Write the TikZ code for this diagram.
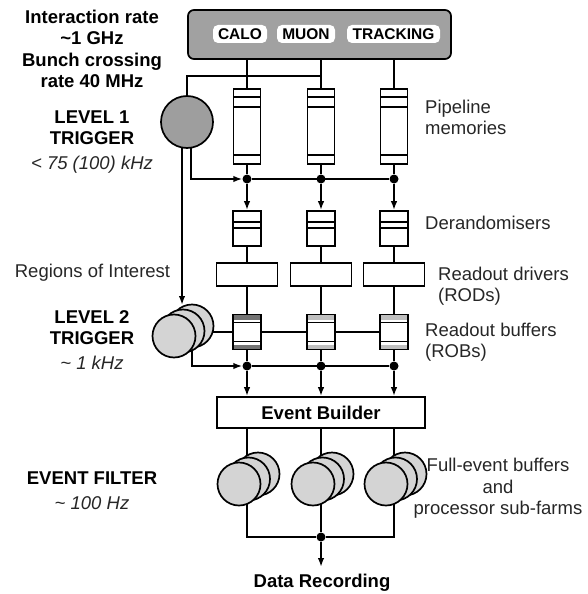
\documentclass[tikz,border=0pt]{standalone}
\usepackage{fontspec}
\setmainfont{Liberation Sans}
\usetikzlibrary{arrows.meta,calc}
\pgfdeclarelayer{bg}
\pgfsetlayers{bg,main}
\newcommand\dfont{\fontsize{18.5}{21.3}\selectfont}
\newcommand\lfont{\fontsize{15.5}{18}\selectfont\bfseries}
\begin{document}
\begin{tikzpicture}[x=1pt,y=-1pt,
  lw/.style={line width=1.8pt},
  arr/.style={line width=1.8pt,-{Latex[length=9pt,width=6.5pt]}},
  detbox/.style={draw,line width=1.7pt,fill=black!37,rounded corners=6pt,minimum width=263pt,minimum height=49pt,inner sep=0pt},
  lab/.style={fill=white,rounded corners=5pt,minimum height=18pt,inner sep=0pt,font=\lfont},
  pipe/.style={draw,fill=white,line width=1.6pt,minimum width=27pt,minimum height=75pt,inner sep=0pt,
    path picture={
      \draw[line width=1.3pt] ([yshift=-8pt]path picture bounding box.north west) -- ([yshift=-8pt]path picture bounding box.north east);
      \draw[line width=1.3pt] ([yshift=-18pt]path picture bounding box.north west) -- ([yshift=-18pt]path picture bounding box.north east);
      \draw[line width=1.3pt] ([yshift=9pt]path picture bounding box.south west) -- ([yshift=9pt]path picture bounding box.south east);
    }},
  derand/.style={draw,fill=white,line width=1.6pt,minimum width=28pt,minimum height=35pt,inner sep=0pt,
    path picture={
      \draw[line width=1.3pt] ([yshift=-11pt]path picture bounding box.north west) -- ([yshift=-11pt]path picture bounding box.north east);
      \draw[line width=1.3pt] ([yshift=-17pt]path picture bounding box.north west) -- ([yshift=-17pt]path picture bounding box.north east);
    }},
  rodbox/.style={draw,fill=white,line width=1.6pt,minimum width=61pt,minimum height=23pt,inner sep=0pt},
  robbox/.style={draw,fill=white,line width=1.6pt,minimum width=28pt,minimum height=35pt,inner sep=0pt,
    path picture={
      \fill[#1] (path picture bounding box.north west) rectangle ([yshift=-5pt]path picture bounding box.north east);
      \draw[line width=1.1pt] ([yshift=-8pt]path picture bounding box.north west) -- ([yshift=-8pt]path picture bounding box.north east);
      \fill[#1] (path picture bounding box.south west) rectangle ([yshift=5pt]path picture bounding box.south east);
      \draw[line width=1.1pt] ([yshift=8pt]path picture bounding box.south west) -- ([yshift=8pt]path picture bounding box.south east);
    }},
  robbox/.default={black!25},
  l1circ/.style={circle,draw,line width=1.7pt,fill=black!38,minimum size=52pt,inner sep=0pt},
  disc/.style={circle,draw,line width=1.7pt,fill=black!17,minimum size=43pt,inner sep=0pt},
  dot/.style={circle,fill=black,minimum size=9pt,inner sep=0pt},
  ebox/.style={draw,fill=white,line width=1.6pt,minimum width=208pt,minimum height=31pt,inner sep=0pt,font=\dfont\bfseries},
  btxt/.style={align=center,font=\dfont\bfseries,inner sep=0pt},
  itxt/.style={align=center,font=\dfont\itshape,inner sep=0pt,text=black!85},
  rtxt/.style={align=left,font=\dfont,inner sep=0pt,text=black!85}
]
\useasboundingbox (0,0) rectangle (587,594);

% detector box
\node[detbox] (det) at (319.5,34.5) {};
\node[lab,minimum width=54pt] (calo) at (240,34) {CALO};
\node[lab,minimum width=58pt] (muon) at (306,34) {MUON};
\node[lab,minimum width=93pt] (trk) at (393.5,34) {TRACKING};

% pipeline memories
\node[pipe] (pm1) at (247,126.5) {};
\node[pipe] (pm2) at (321,126.5) {};
\node[pipe] (pm3) at (394,126.5) {};

% level 1 trigger
\node[l1circ] (l1) at (187,122) {};

% junction dots
\node[dot] (d1a) at (247,179) {};
\node[dot] (d1b) at (321,179) {};
\node[dot] (d1c) at (394,179) {};

% derandomisers
\node[derand] (dr1) at (247,228.5) {};
\node[derand] (dr2) at (321,228.5) {};
\node[derand] (dr3) at (394,228.5) {};

% RODs
\node[rodbox] (rod1) at (247,274.5) {};
\node[rodbox] (rod2) at (321,274.5) {};
\node[rodbox] (rod3) at (394,274.5) {};

% ROBs
\node[robbox=black!55] (rob1) at (247,332) {};
\node[robbox] (rob2) at (321,332) {};
\node[robbox] (rob3) at (394,332) {};

% level 2 trigger stack
\node[disc] (l2c) at (192,326) {};
\node[disc] (l2b) at (183,331) {};
\node[disc] (l2a) at (174,336) {};

% second junction dots
\node[dot] (d2a) at (247,366) {};
\node[dot] (d2b) at (321,366) {};
\node[dot] (d2c) at (394,366) {};

% event builder
\node[ebox] (eb) at (321,412.5) {Event Builder};

% event filter stacks
\node[disc] (ef1c) at (258,474) {};
\node[disc] (ef1b) at (248.5,479) {};
\node[disc] (ef1a) at (239,484) {};
\node[disc] (ef2c) at (332,474) {};
\node[disc] (ef2b) at (322.5,479) {};
\node[disc] (ef2a) at (313,484) {};
\node[disc] (ef3c) at (405,474) {};
\node[disc] (ef3b) at (395.5,479) {};
\node[disc] (ef3a) at (386,484) {};

\node[dot] (d3) at (321,537) {};
\coordinate (rec) at (321,567);

% helper coordinates
\coordinate (t1) at (321,76);
\coordinate (l1a) at (182,122);
\coordinate (l1b) at (191,122);
\coordinate (l2in) at (182,305);
\coordinate (l2o) at (192,336);

% texts
\node[btxt] (t-rate) at (92,49) {Interaction rate\\\textasciitilde1 GHz\\Bunch crossing\\rate 40 MHz};
\node[btxt] (t-l1) at (92,127.5) {LEVEL 1\\TRIGGER};
\node[itxt] (t-l1r) at (92,165) {< 75 (100) kHz};
\node[rtxt,anchor=west] (t-pm) at (425,117.5) {Pipeline\\memories};
\node[rtxt,anchor=west] (t-dr) at (425,223) {Derandomisers};
\node[rtxt] (t-roi) at (92.5,273) {Regions of Interest};
\node[rtxt,anchor=west] (t-rod) at (438,286.5) {Readout drivers\\(RODs)};
\node[rtxt,anchor=west] (t-rob) at (425,342.5) {Readout buffers\\(ROBs)};
\node[btxt] (t-l2) at (92,327.5) {LEVEL 2\\TRIGGER};
\node[itxt] (t-l2r) at (92,363) {\textasciitilde{} 1 kHz};
\node[btxt] (t-ef) at (92,478) {EVENT FILTER};
\node[itxt] (t-efr) at (92,503) {\textasciitilde{} 100 Hz};
\node[rtxt,align=center] (t-full) at (498,488.5) {Full-event buffers\\and\\processor sub-farms};
\node[btxt] (t-rec) at (322,583) {Data Recording};

\begin{pgfonlayer}{bg}
  % detector to pipelines
  \draw[lw] (det.south -| pm1) -- (pm1.north);
  \draw[lw] (det.south -| pm2) -- (pm2.north);
  \draw[lw] (det.south -| pm3) -- (pm3.north);
  % L1 input
  \draw[lw] (l1.north) |- (t1);
  % pipelines to dots
  \draw[lw] (pm1.south) -- (d1a);
  \draw[lw] (pm2.south) -- (d1b);
  \draw[lw] (pm3.south) -- (d1c);
  \draw[arr] (l1b) |- (d1a);
  \draw[lw] (d1a) -- (d1c);
  % dots to derandomisers
  \draw[arr] (d1a) -- (dr1.north);
  \draw[arr] (d1b) -- (dr2.north);
  \draw[arr] (d1c) -- (dr3.north);
  % derandomisers to RODs to ROBs
  \draw[lw] (dr1.south) -- (rod1.north);
  \draw[lw] (dr2.south) -- (rod2.north);
  \draw[lw] (dr3.south) -- (rod3.north);
  \draw[lw] (rod1.south) -- (rob1.north);
  \draw[lw] (rod2.south) -- (rob2.north);
  \draw[lw] (rod3.south) -- (rob3.north);
  % L1 to L2
  \draw[arr] (l1a) -- (l2in);
  % L2 to ROBs
  \draw[lw] (l2c.center |- rob1.center) -- (rob3.center);
  % ROBs to dots
  \draw[lw] (rob1.south) -- (d2a);
  \draw[lw] (rob2.south) -- (d2b);
  \draw[lw] (rob3.south) -- (d2c);
  \draw[arr] (l2o) |- (d2a);
  \draw[lw] (d2a) -- (d2c);
  % dots to event builder
  \draw[arr] (d2a) -- (eb.north -| d2a);
  \draw[arr] (d2b) -- (eb.north -| d2b);
  \draw[arr] (d2c) -- (eb.north -| d2c);
  % event builder to filters
  \draw[lw] (eb.south -| d2a) -- (ef1c.center -| d2a);
  \draw[lw] (eb.south -| d2b) -- (ef2c.center -| d2b);
  \draw[lw] (eb.south -| d2c) -- (ef3c.center -| d2c);
  % filters to recording
  \draw[lw] (ef1a.center -| d2a) |- (d3);
  \draw[lw] (ef3a.center -| d2c) |- (d3);
  \draw[lw] (ef2a.center -| d2b) -- (d3);
  \draw[arr] (d3) -- (rec);
\end{pgfonlayer}
\end{tikzpicture}
\end{document}
